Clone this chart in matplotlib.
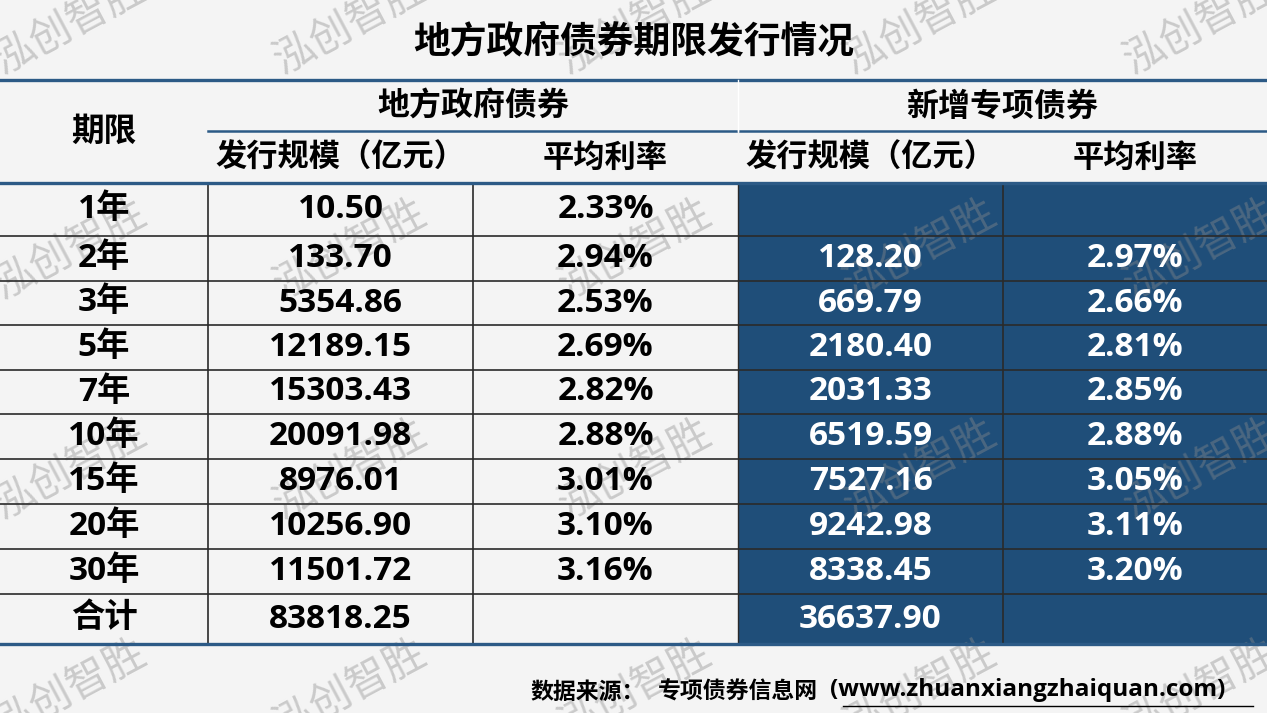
import matplotlib
matplotlib.use('Agg')
import matplotlib.pyplot as plt
from matplotlib.patches import Rectangle

plt.rcParams['font.family'] = ['Noto Sans CJK SC', 'DejaVu Sans']

# Table content
terms = ['1年', '2年', '3年', '5年', '7年', '10年', '15年', '20年', '30年', '合计']
local_amount = [10.50, 133.70, 5354.86, 12189.15, 15303.43, 20091.98, 8976.01, 10256.90, 11501.72, 83818.25]
local_rate = [2.33, 2.94, 2.53, 2.69, 2.82, 2.88, 3.01, 3.10, 3.16, None]
special_amount = [None, 128.20, 669.79, 2180.40, 2031.33, 6519.59, 7527.16, 9242.98, 8338.45, 36637.90]
special_rate = [None, 2.97, 2.66, 2.81, 2.85, 2.88, 3.05, 3.11, 3.20, None]

title = '地方政府债券期限发行情况'
group_headers = ['地方政府债券', '新增专项债券']
sub_headers = ['发行规模（亿元）', '平均利率', '发行规模（亿元）', '平均利率']
source_label = '数据来源：'
source_name = '专项债券信息网'
source_url = '(www.zhuanxiangzhaiquan.com)'
watermark = '泓创智胜'

# Layout (pixel coordinates of a 1267x713 canvas)
W, H = 1267, 713
col_edges = [0, 208, 473, 738, 1003, 1267]
y_top, y_group, y_head = 80, 131, 183
row_edges = [183, 236, 281, 325, 370, 414, 459, 504, 549, 594, 644]

BLUE = '#1f4e79'
LINE_BLUE = '#2c5a86'
BG = '#f4f4f4'
GRID = '#2a2a2a'
NUM_FONT = ['Open Sans', 'Noto Sans CJK SC']

fig = plt.figure(figsize=(W / 100, H / 100), dpi=100)
fig.patch.set_facecolor(BG)
ax = fig.add_axes([0, 0, 1, 1])
ax.set_xlim(0, W)
ax.set_ylim(H, 0)
ax.axis('off')
ax.set_facecolor(BG)

# blue block for the special bond columns
ax.add_patch(Rectangle((col_edges[3], row_edges[0]), W - col_edges[3],
                       row_edges[-1] - row_edges[0], facecolor=BLUE,
                       edgecolor='none', zorder=1))

# watermark
for wy in [25, 250, 470, 690]:
    for wx in [70, 350, 635, 920, 1200]:
        ax.text(wx, wy, watermark, fontsize=30, color='#8c8c8c', alpha=0.4,
                rotation=28, ha='center', va='center', zorder=1.5)

# grid lines
for y in row_edges[1:-1]:
    ax.plot([0, W], [y, y], color=GRID, lw=1.2, zorder=2)
for x in [col_edges[1], col_edges[2], col_edges[4]]:
    ax.plot([x, x], [row_edges[0], row_edges[-1]], color=GRID, lw=1.2, zorder=2)
ax.plot([col_edges[3], col_edges[3]], [row_edges[0], row_edges[-1]], color=GRID, lw=1.0, zorder=2)

# blue rules
ax.plot([0, W], [y_top, y_top], color=LINE_BLUE, lw=2.4, zorder=2.5)
ax.plot([col_edges[1], col_edges[3] - 2], [y_group, y_group], color=LINE_BLUE, lw=1.8, zorder=2.5)
ax.plot([col_edges[3] + 2, W], [y_group, y_group], color=LINE_BLUE, lw=1.8, zorder=2.5)
ax.plot([0, W], [y_head, y_head], color=LINE_BLUE, lw=2.4, zorder=2.5)
ax.plot([0, W], [row_edges[-1], row_edges[-1]], color=LINE_BLUE, lw=2.4, zorder=2.5)
ax.plot([col_edges[3], col_edges[3]], [y_top, y_group], color='white', lw=1.0, zorder=2.6)

# title
ax.text(W / 2, 42, title, fontsize=26.5, fontweight='bold', ha='center', va='center', zorder=3)

# headers
ax.text(col_edges[1] / 2, (y_top + y_head) / 2, '期限', fontsize=23.5, fontweight='bold',
        ha='center', va='center', zorder=3)
for i, g in enumerate(group_headers):
    cx = (col_edges[1 + 2 * i] + col_edges[3 + 2 * i]) / 2
    ax.text(cx, (y_top + y_group) / 2 + 1, g, fontsize=23, fontweight='bold',
            ha='center', va='center', zorder=3)
for i, s in enumerate(sub_headers):
    size = 22.5 if len(s) > 4 else 22.5
    cx = (col_edges[i + 1] + col_edges[i + 2]) / 2
    ax.text(cx, (y_group + y_head) / 2 + 1, s, fontsize=size, fontweight='bold',
            ha='center', va='center', zorder=3)

# body
def fmt(v, pct=False):
    if v is None:
        return ''
    return f'{v:.2f}%' if pct else f'{v:.2f}'

columns = [
    (terms, 'black'),
    ([fmt(v) for v in local_amount], 'black'),
    ([fmt(v, True) for v in local_rate], 'black'),
    ([fmt(v) for v in special_amount], 'white'),
    ([fmt(v, True) for v in special_rate], 'white'),
]
for c, (vals, color) in enumerate(columns):
    cx = (col_edges[c] + col_edges[c + 1]) / 2
    for r, txt in enumerate(vals):
        cy = (row_edges[r] + row_edges[r + 1]) / 2
        ax.text(cx, cy, txt, fontsize=24, fontweight='bold', color=color,
                family=NUM_FONT, ha='center', va='center', zorder=3)

# source note with underlined url
ax.text(530, 692, source_label, fontsize=16.5, fontweight='bold', ha='left', va='center', zorder=3)
ax.text(658, 692, source_name, fontsize=16.5, fontweight='bold', ha='left', va='center', zorder=3)
ax.text(830, 690, source_url, fontsize=17.5, fontweight='bold', ha='left', va='center',
        family=NUM_FONT, zorder=3)
ax.plot([843, 1253], [706, 706], color='black', lw=1.0, zorder=3)

fig.savefig('out.png', dpi=100, facecolor=BG)
